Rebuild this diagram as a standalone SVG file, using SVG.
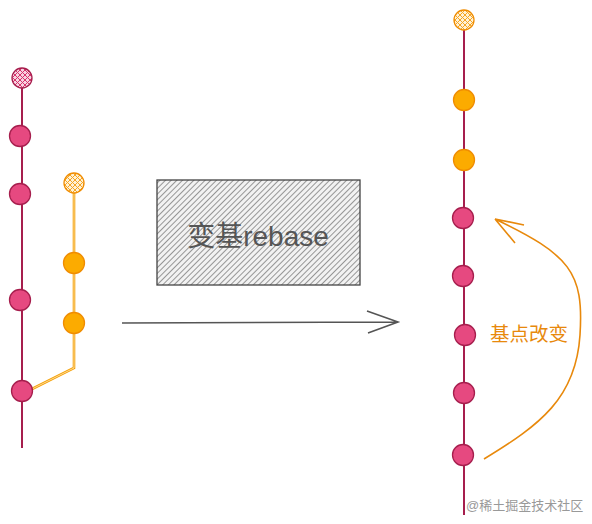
<svg xmlns="http://www.w3.org/2000/svg" width="592" height="524" viewBox="0 0 592 524">
<defs>
<pattern id="hatchPink" width="5" height="5" patternUnits="userSpaceOnUse">
<rect width="5" height="5" fill="#f7d3e0"/>
<path d="M0 0L5 5M5 0L0 5" stroke="#d6336c" stroke-width="1"/>
</pattern>
<pattern id="hatchOrange" width="5" height="5" patternUnits="userSpaceOnUse">
<rect width="5" height="5" fill="#fff1d6"/>
<path d="M0 0L5 5M5 0L0 5" stroke="#f5a623" stroke-width="1"/>
</pattern>
<pattern id="hatchGray" width="4" height="4" patternUnits="userSpaceOnUse" patternTransform="rotate(45)">
<rect width="4" height="4" fill="#f2f2f2"/>
<line x1="0" y1="0" x2="0" y2="4" stroke="#6e6e6e" stroke-width="1.4"/>
</pattern>
</defs>
<style>
.pline{stroke:#a61e4d;stroke-width:2;fill:none}
.pink{fill:#e64980;stroke:#a61e4d;stroke-width:1.3}
.orange{fill:#fcab00;stroke:#f08c00;stroke-width:1.3}
.hp{fill:url(#hatchPink);stroke:#a61e4d;stroke-width:1.3}
.ho{fill:url(#hatchOrange);stroke:#f08c00;stroke-width:1.3}
.t{font-family:"Liberation Sans","Noto Sans CJK SC",sans-serif}
</style>
<rect width="592" height="524" fill="#ffffff"/>
<g id="connectors">
<line class="pline" x1="22" y1="80" x2="22" y2="448"/>
<path d="M74 190L74 368L30 390" stroke="#f59f00" stroke-width="2.6" fill="none"/>
<path d="M74 190L74 368L30 390" stroke="#fff4e0" stroke-width="0.7" fill="none"/>
<line class="pline" x1="464" y1="22" x2="464" y2="515"/>
<path d="M122 323L398 322M367 311L398 322L368 333" stroke="#555" stroke-width="1.6" fill="none"/>
<path d="M484 459C540 425 576 398 580 335C584 272 570 255 495 219M495 219L524 225M495 219L515 243" stroke="#e8890c" stroke-width="1.6" fill="none"/>
</g>
<g id="left-branch-main">
<circle class="hp" cx="22" cy="78" r="10"/>
<circle class="pink" cx="20" cy="136" r="10.5"/>
<circle class="pink" cx="20" cy="194" r="10.5"/>
<circle class="pink" cx="20" cy="300" r="10.5"/>
<circle class="pink" cx="22" cy="391" r="10.5"/>
</g>
<g id="left-branch-feature">
<circle class="ho" cx="74" cy="183" r="10"/>
<circle class="orange" cx="74" cy="263" r="10.5"/>
<circle class="orange" cx="74" cy="323" r="10.5"/>
</g>
<g id="rebase-box">
<rect x="157" y="180" width="203" height="105" fill="url(#hatchGray)" stroke="#444" stroke-width="1.3"/>
<text class="t" x="258" y="246" font-size="28" fill="#555" text-anchor="middle">变基rebase</text>
</g>
<g id="right-branch">
<circle class="ho" cx="464" cy="20" r="10"/>
<circle class="orange" cx="464" cy="100" r="10.5"/>
<circle class="orange" cx="464" cy="160" r="10.5"/>
<circle class="pink" cx="463" cy="218" r="10.5"/>
<circle class="pink" cx="463" cy="276" r="10.5"/>
<circle class="pink" cx="465" cy="335" r="10.5"/>
<circle class="pink" cx="464" cy="393" r="10.5"/>
<circle class="pink" cx="463" cy="455" r="10.5"/>
</g>
<g id="label">
<text class="t" x="490" y="341" font-size="19.5" fill="#e8890c">基点改变</text>
</g>
<text class="t" x="466" y="510" font-size="13" fill="#999">@稀土掘金技术社区</text>
</svg>
